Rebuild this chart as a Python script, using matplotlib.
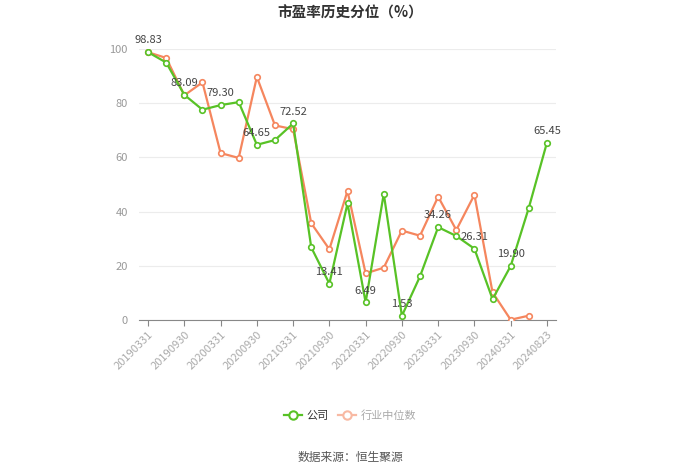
import matplotlib.pyplot as plt
from matplotlib.lines import Line2D

plt.rcParams['font.family'] = ['Noto Sans CJK SC', 'DejaVu Sans']

dates = ['20190331', '20190630', '20190930', '20191231', '20200331', '20200630',
         '20200930', '20201231', '20210331', '20210630', '20210930', '20211231',
         '20220331', '20220630', '20220930', '20221231', '20230331', '20230630',
         '20230930', '20231231', '20240331', '20240630', '20240823']
company = [98.83, 95.0, 83.09, 77.6, 79.30, 80.4, 64.65, 66.4, 72.52, 26.8, 13.41,
           43.0, 6.49, 46.6, 1.53, 16.1, 34.26, 31.0, 26.31, 7.7, 19.90, 41.4, 65.45]
industry = [98.8, 96.7, 82.9, 87.7, 61.6, 59.8, 89.7, 71.8, 70.4, 35.7, 26.1,
            47.6, 17.2, 19.3, 33.0, 31.1, 45.5, 33.2, 46.2, 10.2, 0.1, 1.6]

green = '#58c226'
orange = '#f5865e'

fig = plt.figure(figsize=(7, 4.74), dpi=100)
ax = fig.add_axes([139 / 700, 1 - 320 / 474, 417 / 700, 271 / 474])

x = list(range(len(dates)))
ax.plot(x[:len(industry)], industry, color=orange, lw=1.6, marker='o', ms=4,
        mfc='white', mec=orange, mew=1.2, zorder=3)
ax.plot(x, company, color=green, lw=1.6, marker='o', ms=4,
        mfc='white', mec=green, mew=1.2, zorder=4)

for i in range(0, len(company), 2):
    ax.text(i, company[i] + 2.5, f'{company[i]:.2f}', ha='center', va='bottom',
            fontsize=8, color='#444444', zorder=5)

ax.set_xlim(-0.5, len(dates) - 0.5)
ax.set_ylim(0, 100)
ax.set_yticks([0, 20, 40, 60, 80, 100])
ax.tick_params(axis='y', length=0, labelsize=8, labelcolor='#999999', pad=8)
ticks = list(range(0, len(dates), 2))
ax.set_xticks(ticks)
ax.set_xticklabels([dates[i] for i in ticks], rotation=45, ha='right',
                   rotation_mode='anchor', fontsize=8, color='#aaaaaa')
ax.tick_params(axis='x', length=4, color='#888888', pad=3)
ax.grid(axis='y', color='#ececec', lw=0.8)
ax.set_axisbelow(True)
for s in ['top', 'right', 'left']:
    ax.spines[s].set_visible(False)
ax.spines['bottom'].set_color('#888888')

fig.text(0.5, 1 - 13 / 474, '市盈率历史分位（%）', ha='center', va='center',
         fontsize=10.5, fontweight='bold', color='#333333')

handles = [Line2D([], [], color=green, lw=1.6, marker='o', ms=6, mfc='white', mec=green, mew=1.5),
           Line2D([], [], color='#f8b9a3', lw=1.6, marker='o', ms=6, mfc='white', mec='#f8b9a3', mew=1.5)]
leg = fig.legend(handles, ['公司', '行业中位数'], loc='center', bbox_to_anchor=(0.5, 1 - 416 / 474),
                 ncol=2, frameon=False, fontsize=8, handlelength=1.6, handletextpad=0.4,
                 columnspacing=0.9)
leg.get_texts()[0].set_color('#333333')
leg.get_texts()[1].set_color('#aaaaaa')

fig.text(0.5, 1 - 457 / 474, '数据来源：恒生聚源', ha='center', va='center',
         fontsize=8.5, color='#555555')

fig.savefig('out.png', dpi=100)
